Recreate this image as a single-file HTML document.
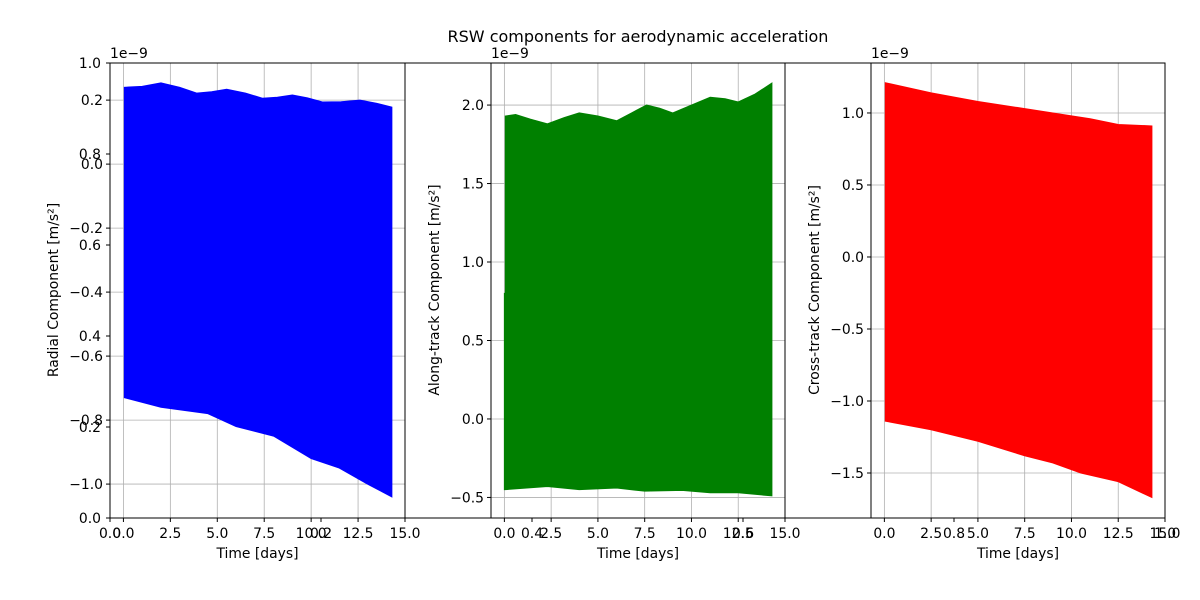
<!DOCTYPE html>
<html><head><meta charset="utf-8"><style>
body{margin:0;background:#fff;}
svg{display:block;font-family:"DejaVu Sans","Liberation Sans",sans-serif;}
</style></head><body>
<svg id="chart" width="1200" height="600" viewBox="0 0 1200 600">
<text x="638" y="42" font-size="16" text-anchor="middle">RSW components for aerodynamic acceleration</text>
<g id="bg"></g>
<g id="p1"></g>
<g id="p2"></g>
<g id="p3"></g>
</svg>
<script>
// Background axes ticks
const bgTicks = [0.0, 0.2, 0.4, 0.6, 0.8, 1.0];
// Radial component (1e-9 m/s^2)
const radT = [0.05, 1.0, 2.0, 3.0, 3.9, 4.7, 5.5, 6.5, 7.4, 8.2, 9.0, 9.8, 10.6, 11.6, 12.6, 13.5, 14.3];
const radUpper = [0.24, 0.243, 0.254, 0.24, 0.222, 0.226, 0.234, 0.222, 0.206, 0.209, 0.216, 0.207, 0.194, 0.195, 0.2, 0.19, 0.178];
const radLT = [0.05, 2.0, 4.5, 6.0, 8.0, 10.0, 11.5, 13.0, 14.3];
const radLower = [-0.73, -0.76, -0.78, -0.82, -0.85, -0.92, -0.95, -1.0, -1.04];
const radTicks = [-1.0, -0.8, -0.6, -0.4, -0.2, 0.0, 0.2];
// Along-track component
const alT = [0.05, 0.6, 1.4, 2.3, 3.2, 4.0, 5.0, 6.0, 6.8, 7.6, 8.3, 9.0, 10.0, 11.0, 11.8, 12.5, 13.4, 14.3];
const alUpper = [1.93, 1.94, 1.91, 1.88, 1.92, 1.95, 1.93, 1.9, 1.95, 2.0, 1.98, 1.95, 2.0, 2.05, 2.04, 2.02, 2.07, 2.14];
const alLT = [0.05, 2.3, 4.0, 6.0, 7.5, 9.5, 11.0, 12.5, 14.3];
const alLower = [-0.45, -0.43, -0.45, -0.44, -0.46, -0.455, -0.47, -0.47, -0.49];
const alTicks = [-0.5, 0.0, 0.5, 1.0, 1.5, 2.0];
// Cross-track component
const crT = [0.05, 2.5, 5.0, 7.5, 10.0, 11.0, 12.5, 14.3];
const crUpper = [1.21, 1.14, 1.08, 1.03, 0.98, 0.96, 0.92, 0.91];
const crLT = [0.05, 2.5, 5.0, 7.5, 9.0, 10.5, 12.5, 14.3];
const crLower = [-1.14, -1.2, -1.28, -1.38, -1.43, -1.5, -1.56, -1.67];
const crTicks = [-1.5, -1.0, -0.5, 0.0, 0.5, 1.0];
const xTicks = [0.0, 2.5, 5.0, 7.5, 10.0, 12.5, 15.0];

const NS = "http://www.w3.org/2000/svg";
const FS = 13.9;
function mk(parent, tag, attrs) {
  const e = document.createElementNS(NS, tag);
  for (const k in attrs) e.setAttribute(k, attrs[k]);
  parent.appendChild(e);
  return e;
}
const TOP = 63, BOT = 518;

const bg = document.getElementById('bg');
{
  const sx = v => 110 + v * 1055, sy = v => 518 - v * 455;
  const r = mk(bg, 'rect', {x:110, y:63, width:1055, height:455, fill:'none', stroke:'#000', 'stroke-width':1});
  
  
  bgTicks.forEach(v => {
    mk(bg, 'line', {x1:sx(v), x2:sx(v), y1:518, y2:522, stroke:'#000'});
    const t = mk(bg, 'text', {x:sx(v), y:538, 'font-size':FS, 'text-anchor':'middle'});
    t.textContent = v.toFixed(1);
    
    
    mk(bg, 'line', {x1:106, x2:110, y1:sy(v), y2:sy(v), stroke:'#000'});
    const u = mk(bg, 'text', {x:101, y:sy(v) + 5, 'font-size':FS, 'text-anchor':'end'});
    u.textContent = v.toFixed(1);
    
    
  });
}

function panel(id, x0, x1, ymin, ymax, yt, tU, up, tL, lo, ticks, color, label, extra) {
  const g = document.getElementById(id);
  const sx = v => x0 + (v + 0.715) / 15.715 * (x1 - x0);
  const sy = v => BOT - (v - ymin) / (ymax - ymin) * (BOT - TOP);
  mk(g, 'rect', {x:x0, y:TOP, width:x1 - x0, height:BOT - TOP, fill:'#fff'});
  xTicks.forEach(v => mk(g, 'line', {x1:sx(v), x2:sx(v), y1:TOP, y2:BOT, stroke:'#b0b0b0', 'stroke-width':0.8}));
  ticks.forEach(v => mk(g, 'line', {x1:x0, x2:x1, y1:sy(v), y2:sy(v), stroke:'#b0b0b0', 'stroke-width':0.8}));
  let pts = [];
  if (extra) pts.push([sx(0), sy(extra)], [sx(0), sy(lo[0])]);
  tL.forEach((t, i) => pts.push([sx(t), sy(lo[i])]));
  for (let i = tU.length - 1; i >= 0; i--) pts.push([sx(tU[i]), sy(up[i])]);
  if (extra) pts.push([sx(tU[0]), sy(extra)]);
  const p = mk(g, 'polygon', {points: pts.map(q => q.join(',')).join(' '), fill:color, stroke:color, 'stroke-width':1});
  
  
  const fr = mk(g, 'rect', {x:x0, y:TOP, width:x1 - x0, height:BOT - TOP, fill:'none', stroke:'#000', 'stroke-width':1});
  
  
  xTicks.forEach(v => {
    mk(g, 'line', {x1:sx(v), x2:sx(v), y1:BOT, y2:BOT + 4, stroke:'#000'});
    const t = mk(g, 'text', {x:sx(v), y:538, 'font-size':FS, 'text-anchor':'middle'});
    t.textContent = v.toFixed(1);
    
    
  });
  ticks.forEach(v => {
    mk(g, 'line', {x1:x0 - 4, x2:x0, y1:sy(v), y2:sy(v), stroke:'#000'});
    const t = mk(g, 'text', {x:x0 - 7, y:sy(v) + 5, 'font-size':FS, 'text-anchor':'end'});
    t.textContent = (v < 0 ? '\u2212' : '') + Math.abs(v).toFixed(1);
    
    
  });
  const xl = mk(g, 'text', {x:(x0 + x1) / 2, y:558, 'font-size':FS, 'text-anchor':'middle'});
  xl.textContent = 'Time [days]';
  
  
  const yl = mk(g, 'text', {x:yt, y:290, 'font-size':FS, 'text-anchor':'middle', transform:`rotate(-90 ${yt} 290)`});
  yl.textContent = label;
  
  
  const off = mk(g, 'text', {x:x0, y:58, 'font-size':FS});
  off.textContent = '1e\u22129';
  
  
}
panel('p1', 110, 405, -1.106, 0.316, 58, radT, radUpper, radLT, radLower, radTicks, '#0000ff', 'Radial Component [m/s\u00b2]', null);
panel('p2', 491, 785, -0.631, 2.268, 439, alT, alUpper, alLT, alLower, alTicks, '#008000', 'Along-track Component [m/s\u00b2]', 0.8);
panel('p3', 871, 1165, -1.8125, 1.347, 819, crT, crUpper, crLT, crLower, crTicks, '#ff0000', 'Cross-track Component [m/s\u00b2]', null);
</script>
</body></html>
